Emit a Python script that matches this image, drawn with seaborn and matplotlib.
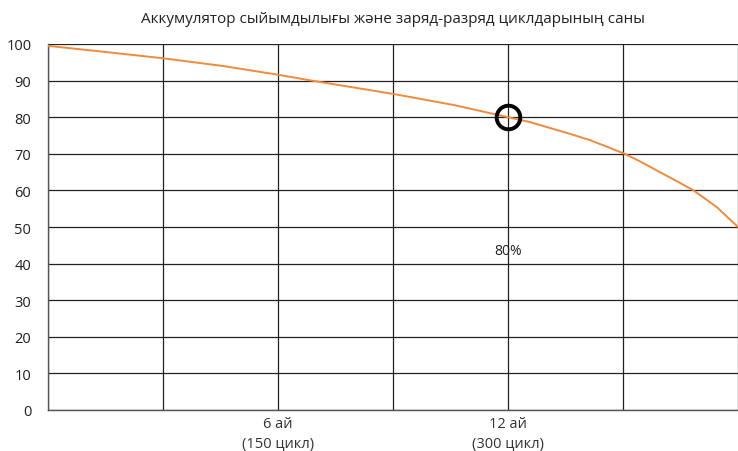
import seaborn as sns
from matplotlib import pyplot as plt
import pandas as pd

# cycles vs capacity (%)
cycles = [0, 38, 75, 114, 150, 172, 226, 265, 300, 314, 327, 340, 353, 366,
          376, 386, 399, 410, 421, 436, 450]
capacity = [99.5, 97.8, 96.1, 94.0, 91.6, 90.0, 86.3, 83.3, 80.0, 78.7, 77.1,
            75.5, 73.8, 71.7, 70.0, 67.95, 65.0, 62.55, 60.0, 55.5, 50.0]

x_ticks = [0, 75, 150, 225, 300, 375, 450]
x_tick_labels = ["", "", "6 ай\n(150 цикл)", "", "12 ай\n(300 цикл)", "", ""]
y_ticks = list(range(0, 101, 10))

marker_x = [300]
marker_y = [80]
note_text = "80%"
note_y = 43.7

title = "Аккумулятор сыйымдылығы және заряд-разряд циклдарының саны"

sns.set_theme(style="white")
plt.rcParams["font.family"] = ["Open Sans", "DejaVu Sans"]

df = pd.DataFrame({"cycles": cycles, "capacity": capacity})

fig = plt.figure(figsize=(7.38, 4.52), dpi=100)
ax = fig.add_axes([48 / 738, 1 - 411 / 452, 1 - 48 / 738, (411 - 45) / 452])

sns.lineplot(data=df, x="cycles", y="capacity", ax=ax, color="#f08a3c",
             linewidth=1.4, zorder=3)
ax.plot(marker_x, marker_y, "o", markersize=17, markerfacecolor="none",
        markeredgecolor="black", markeredgewidth=2.8, zorder=4)
ax.text(marker_x[0], note_y, note_text, ha="center", va="center", fontsize=10,
        color="#222222")

ax.set_xlim(0, 450)
ax.set_ylim(0, 100)
ax.set_xticks(x_ticks)
ax.set_xticklabels(x_tick_labels, fontsize=10.5, color="#333333", linespacing=1.45)
ax.set_yticks(y_ticks)
ax.set_yticklabels([str(v) for v in y_ticks], fontsize=10.5, color="#222222")
ax.tick_params(axis="x", length=0, pad=4)
ax.tick_params(axis="y", length=0, pad=12)

ax.set_xlabel("")
ax.set_ylabel("")
ax.grid(True, color="#222222", linewidth=0.9)

for side in ["top", "right"]:
    ax.spines[side].set_visible(False)
ax.spines["left"].set_color("#555555")
ax.spines["bottom"].set_color("#555555")
ax.spines["left"].set_linewidth(1.0)
ax.spines["bottom"].set_linewidth(1.0)

ax.set_title(title, fontsize=11, color="#222222", pad=16)

plt.savefig("out.png", dpi=100)
plt.close("all")
